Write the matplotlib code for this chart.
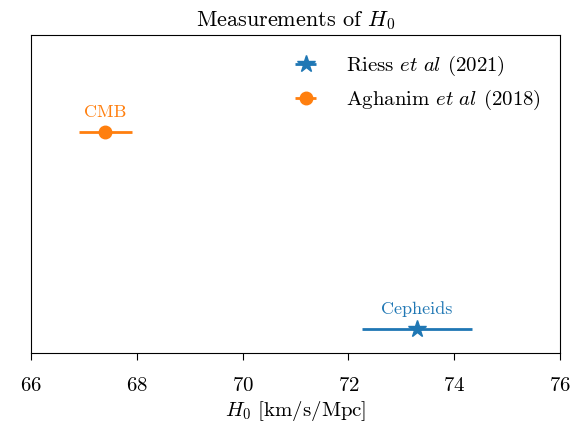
import matplotlib
matplotlib.use('Agg')
import matplotlib.pyplot as plt

plt.rcParams['font.family'] = 'serif'
plt.rcParams['font.serif'] = ['cmr10']
plt.rcParams['mathtext.fontset'] = 'cm'
plt.rcParams['axes.unicode_minus'] = False
plt.rcParams['axes.formatter.use_mathtext'] = True

# measurements (H0, error, y position)
names = [r'Riess $\it{et\ al}$ (2021)', r'Aghanim $\it{et\ al}$ (2018)']
tags = ['Cepheids', 'CMB']
h0 = [73.3, 67.4]
h0_err = [1.04, 0.5]
ypos = [0, 1]
markers = ['*', 'o']
colors = ['#1f77b4', '#ff7f0e']

fig = plt.figure(figsize=(5.8, 4.24), dpi=100)
ax = fig.add_axes([31/580, 1 - 353/424, 529/580, 318/424])

for i in range(len(h0)):
    ax.errorbar(h0[i], ypos[i], xerr=h0_err[i], fmt=markers[i], color=colors[i],
                ms=13 if markers[i] == '*' else 9, lw=2, capsize=0, label=names[i])
    ax.text(h0[i], ypos[i] + 0.06, tags[i], color=colors[i], ha='center',
            va='bottom', fontsize=13)

ax.set_xlim(66, 76)
ax.set_ylim(-0.122, 1.49)
ax.set_yticks([])
ax.set_xticks([66, 68, 70, 72, 74, 76])
ax.tick_params(axis='x', labelsize=15, direction='out', length=5, pad=12)
ax.set_xlabel(r'$H_0$ [km/s/Mpc]', fontsize=15, labelpad=3)
ax.set_title(r'Measurements of $H_0$', fontsize=16)
ax.legend(loc='upper right', frameon=False, fontsize=15, handlelength=2.3)

fig.savefig('out.png', dpi=100)
